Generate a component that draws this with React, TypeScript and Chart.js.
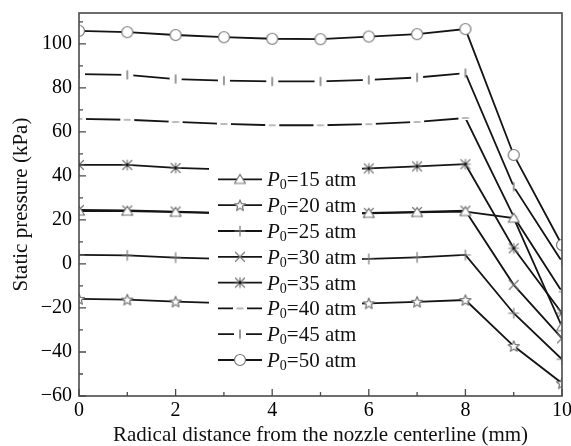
import React, { useEffect, useRef } from 'react';
import { Chart, registerables } from 'chart.js';

Chart.register(...registerables);

// ---- data ----
const xValues = [0, 1, 2, 3, 4, 5, 6, 7, 8, 9, 10];
const pressures = [15, 20, 25, 30, 35, 40, 45, 50];
const p15 = [24.0, 24.0, 23.5, 23.0, 22.6, 22.6, 23.0, 23.4, 23.8, 20.8, -28.5];
const p20 = [-15.9, -16.2, -17.1, -17.8, -18.3, -18.3, -17.9, -17.2, -16.4, -37.3, -54.2];
const p25 = [4.1, 3.9, 2.9, 2.3, 1.8, 1.8, 2.3, 3.0, 4.1, -22.4, -43.3];
const p30 = [24.5, 24.3, 23.8, 23.2, 22.8, 22.8, 23.2, 23.6, 24.2, -9.5, -33.8];
const p35 = [45.0, 45.0, 43.6, 43.0, 42.5, 42.5, 43.4, 44.3, 45.3, 7.1, -22.4];
const p40 = [65.9, 65.5, 64.5, 63.6, 63.0, 63.0, 63.5, 64.5, 66.3, 21.5, -12.6];
const p45 = [86.2, 85.9, 84.0, 83.3, 82.9, 82.9, 83.6, 84.7, 86.7, 35.1, 1.0];
const p50 = [105.9, 105.3, 104.0, 103.0, 102.3, 102.1, 103.3, 104.4, 106.7, 49.5, 8.6];
const seriesValues = [p15, p20, p25, p30, p35, p40, p45, p50];
const markerKinds = ['triangle', 'star', 'plus', 'cross', 'asterisk', 'dash', 'bar', 'circle'];
const xMajorTicks = [0, 2, 4, 6, 8, 10];
const xMinorTicks = [1, 3, 5, 7, 9];
const yMajorTicks = [-60, -40, -20, 0, 20, 40, 60, 80, 100];
const yMinorTicks = [-50, -30, -10, 10, 30, 50, 70, 90, 110];
const xTitle = 'Radical distance from the nozzle centerline (mm)';
const yTitle = 'Static pressure (kPa)';

const FONT = "'Liberation Serif', 'Times New Roman', serif";
const MARKER_COLOR = '#777777';
const LINE_COLOR = '#141414';

function makeMarker(kind: string): HTMLCanvasElement {
  const c = document.createElement('canvas');
  c.width = 16;
  c.height = 16;
  const g = c.getContext('2d') as CanvasRenderingContext2D;
  const cx = 8, cy = 8;
  g.strokeStyle = MARKER_COLOR;
  g.fillStyle = '#ffffff';
  g.lineWidth = 1.2;
  g.lineCap = 'round';
  g.lineJoin = 'round';
  switch (kind) {
    case 'circle':
      g.beginPath();
      g.arc(cx, cy, 5.5, 0, Math.PI * 2);
      g.fill();
      g.stroke();
      break;
    case 'triangle':
      g.beginPath();
      g.moveTo(cx, cy - 5);
      g.lineTo(cx + 5.5, cy + 4);
      g.lineTo(cx - 5.5, cy + 4);
      g.closePath();
      g.fill();
      g.stroke();
      break;
    case 'star': {
      g.beginPath();
      for (let i = 0; i < 10; i++) {
        const r = i % 2 === 0 ? 5.8 : 2.5;
        const a = -Math.PI / 2 + (i * Math.PI) / 5;
        const px = cx + r * Math.cos(a);
        const py = cy + 0.5 + r * Math.sin(a);
        if (i === 0) g.moveTo(px, py);
        else g.lineTo(px, py);
      }
      g.closePath();
      g.fill();
      g.stroke();
      break;
    }
    case 'plus':
      g.beginPath();
      g.moveTo(cx - 5, cy);
      g.lineTo(cx + 5, cy);
      g.moveTo(cx, cy - 5);
      g.lineTo(cx, cy + 5);
      g.stroke();
      break;
    case 'cross':
      g.beginPath();
      g.moveTo(cx - 4.5, cy - 4.5);
      g.lineTo(cx + 4.5, cy + 4.5);
      g.moveTo(cx + 4.5, cy - 4.5);
      g.lineTo(cx - 4.5, cy + 4.5);
      g.stroke();
      break;
    case 'asterisk':
      g.beginPath();
      g.moveTo(cx - 4.5, cy - 4.5);
      g.lineTo(cx + 4.5, cy + 4.5);
      g.moveTo(cx + 4.5, cy - 4.5);
      g.lineTo(cx - 4.5, cy + 4.5);
      g.moveTo(cx, cy - 5);
      g.lineTo(cx, cy + 5);
      g.moveTo(cx - 5, cy);
      g.lineTo(cx + 5, cy);
      g.stroke();
      g.fillStyle = '#111';
      g.beginPath();
      g.arc(cx, cy, 1.4, 0, Math.PI * 2);
      g.fill();
      break;
    case 'dash':
      g.fillRect(1, cy - 2, 14, 4);
      g.beginPath();
      g.moveTo(cx - 3, cy);
      g.lineTo(cx + 3, cy);
      g.stroke();
      break;
    case 'bar':
      g.fillRect(2, cy - 2, 12, 4);
      g.lineWidth = 1.5;
      g.beginPath();
      g.moveTo(cx, cy - 4);
      g.lineTo(cx, cy + 4);
      g.stroke();
      break;
  }
  return c;
}

const frameTicksPlugin = {
  id: 'frameTicks',
  afterDraw(chart: any) {
    const { ctx, chartArea } = chart;
    const xs = chart.scales.x;
    const ys = chart.scales.y;
    ctx.save();
    ctx.strokeStyle = '#4a4a4a';
    ctx.lineWidth = 1.6;
    ctx.strokeRect(chartArea.left, chartArea.top, chartArea.right - chartArea.left, chartArea.bottom - chartArea.top);
    ctx.lineWidth = 1.3;
    ctx.beginPath();
    const bottom = chartArea.bottom;
    const left = chartArea.left;
    xMajorTicks.forEach((v) => {
      const px = xs.getPixelForValue(v);
      ctx.moveTo(px, bottom);
      ctx.lineTo(px, bottom - 7);
    });
    xMinorTicks.forEach((v) => {
      const px = xs.getPixelForValue(v);
      ctx.moveTo(px, bottom);
      ctx.lineTo(px, bottom - 4);
    });
    yMajorTicks.forEach((v) => {
      const py = ys.getPixelForValue(v);
      ctx.moveTo(left, py);
      ctx.lineTo(left + 7, py);
    });
    yMinorTicks.forEach((v) => {
      const py = ys.getPixelForValue(v);
      ctx.moveTo(left, py);
      ctx.lineTo(left + 4, py);
    });
    ctx.stroke();
    ctx.restore();
  },
};

const legendPlugin = {
  id: 'customLegend',
  afterDatasetsDraw(chart: any) {
    const { ctx, chartArea } = chart;
    const left = chartArea.left;
    const top = chartArea.top;
    ctx.save();
    ctx.fillStyle = '#ffffff';
    ctx.fillRect(left + 130, top + 150, 153, 209);
    const rowH = 25.8;
    chart.data.datasets.forEach((ds: any, i: number) => {
      const y = top + 166.4 + i * rowH;
      const x0 = left + 139;
      ctx.strokeStyle = LINE_COLOR;
      ctx.lineWidth = 1.8;
      ctx.beginPath();
      ctx.moveTo(x0, y);
      ctx.lineTo(x0 + 44, y);
      ctx.stroke();
      const img = ds.pointStyle as HTMLCanvasElement;
      ctx.drawImage(img, x0 + 22 - img.width / 2, y - img.height / 2);
      ctx.fillStyle = '#111';
      ctx.textBaseline = 'alphabetic';
      let tx = x0 + 49;
      ctx.font = `italic 21px ${FONT}`;
      ctx.fillText('P', tx, y + 7);
      tx += ctx.measureText('P').width;
      ctx.font = `14px ${FONT}`;
      ctx.fillText('0', tx, y + 10);
      tx += ctx.measureText('0').width;
      ctx.font = `21px ${FONT}`;
      ctx.fillText(`=${pressures[i]} atm`, tx, y + 7);
    });
    ctx.restore();
  },
};

export default function App() {
  const ref = useRef<HTMLCanvasElement | null>(null);
  useEffect(() => {
    if (!ref.current) return;
    const datasets = seriesValues.map((vals, i) => ({
      label: `P0=${pressures[i]} atm`,
      data: vals.map((v, j) => ({ x: xValues[j], y: v })),
      borderColor: LINE_COLOR,
      borderWidth: 1.8,
      backgroundColor: '#ffffff',
      pointStyle: makeMarker(markerKinds[i]) as any,
      pointRadius: 5,
      pointHoverRadius: 5,
      tension: 0,
      fill: false,
    }));
    const chart = new Chart(ref.current, {
      type: 'line',
      data: { datasets },
      options: {
        animation: false,
        responsive: false,
        devicePixelRatio: 1,
        events: [],
        layout: { padding: { top: 13, right: 9, left: 0, bottom: 0 } },
        plugins: { legend: { display: false }, tooltip: { enabled: false } },
        scales: {
          x: {
            type: 'linear',
            min: 0,
            max: 10,
            grid: { display: false, drawTicks: false },
            border: { display: false },
            ticks: {
              stepSize: 2,
              padding: 3,
              color: '#000',
              maxRotation: 0,
              font: { family: FONT, size: 20 },
            },
            title: {
              display: true,
              text: xTitle,
              color: '#111',
              font: { family: FONT, size: 21, lineHeight: 1 },
              padding: { top: 0, bottom: 0 },
            },
            afterFit: (s: any) => {
              s.height = 50;
              s.paddingLeft = 0;
              s.paddingRight = 0;
            },
          },
          y: {
            type: 'linear',
            min: -60,
            max: 114,
            grid: { display: false, drawTicks: false },
            border: { display: false },
            ticks: {
              stepSize: 20,
              includeBounds: false,
              padding: 7,
              color: '#000',
              font: { family: FONT, size: 20 },
              callback: (v: any) => (v < 0 ? '\u2212' + Math.abs(v) : String(v)),
            },
            title: {
              display: true,
              text: yTitle,
              color: '#111',
              font: { family: FONT, size: 21, lineHeight: 1 },
              padding: { top: 11, bottom: 0 },
            },
            afterFit: (s: any) => {
              s.width = 79;
              s.paddingTop = 0;
              s.paddingBottom = 0;
            },
          },
        },
      },
      plugins: [legendPlugin, frameTicksPlugin],
    });
    return () => chart.destroy();
  }, []);
  return (
    <div style={{ position: 'fixed', left: 0, top: 0, width: 571, height: 446, background: '#fff' }}>
      <canvas ref={ref} width={571} height={446} style={{ display: 'block' }} />
    </div>
  );
}
